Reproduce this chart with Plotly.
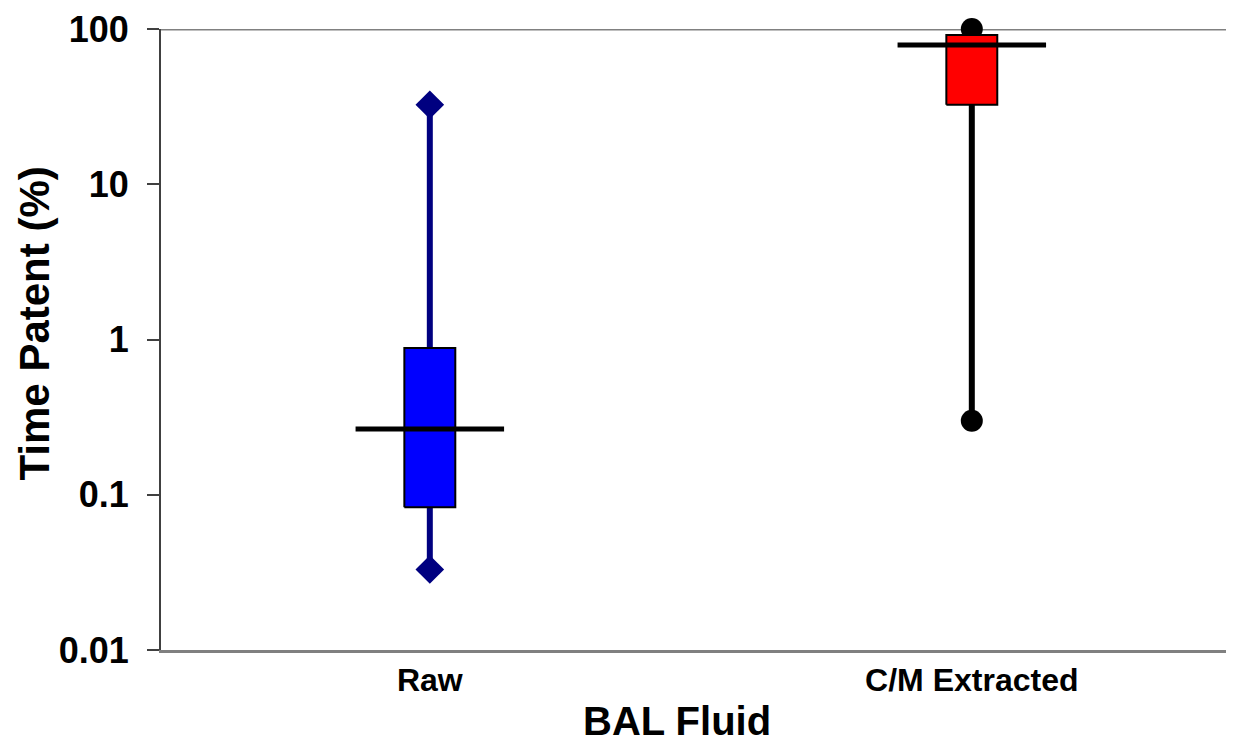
import plotly.graph_objects as go

# ---- data ----
categories = ["Raw", "C/M Extracted"]
minimum = [0.033, 0.30]
q1 = [0.083, 32.5]
median = [0.265, 79.0]
q3 = [0.88, 91.5]
maximum = [32.5, 100.0]
y_tickvals = [0.01, 0.1, 1, 10, 100]
y_ticktext = ["0.01", "0.1", "1", "10", "100"]

box_fill = ["#0000FF", "#FF0000"]
whisker_color = ["#000080", "#000000"]
end_symbol = ["diamond", "circle"]

BOX_HALF = 0.047
MED_HALF = 0.137
FONT = "Liberation Sans, Arial, sans-serif"

fig = go.Figure()
for i, cat in enumerate(categories):
    x = i
    # whisker
    fig.add_trace(go.Scatter(
        x=[x, x], y=[minimum[i], maximum[i]], mode="lines",
        line=dict(color=whisker_color[i], width=6), hoverinfo="skip", showlegend=False))
    # end markers
    fig.add_trace(go.Scatter(
        x=[x, x], y=[minimum[i], maximum[i]], mode="markers", cliponaxis=False,
        marker=dict(symbol=end_symbol[i], size=22, color=whisker_color[i]),
        hoverinfo="skip", showlegend=False))
    # box
    fig.add_trace(go.Scatter(
        x=[x - BOX_HALF, x + BOX_HALF, x + BOX_HALF, x - BOX_HALF, x - BOX_HALF],
        y=[q1[i], q1[i], q3[i], q3[i], q1[i]],
        mode="lines", fill="toself", fillcolor=box_fill[i],
        line=dict(color="#000000", width=2), hoverinfo="skip", showlegend=False))
    # median
    fig.add_trace(go.Scatter(
        x=[x - MED_HALF, x + MED_HALF], y=[median[i], median[i]], mode="lines",
        line=dict(color="#000000", width=5), hoverinfo="skip", showlegend=False))

# top border line of plot area
fig.add_shape(type="line", xref="paper", yref="y", x0=0, x1=1, y0=100, y1=100,
              line=dict(color="#808080", width=3), layer="below")

# axis titles as annotations
fig.add_annotation(
    text="Time Patent (%)", textangle=-90, showarrow=False,
    xref="paper", yref="paper", x=-0.1187, y=0.525,
    xanchor="center", yanchor="middle", borderpad=0,
    font=dict(family=FONT, size=42, weight="bold", color="#000000"))
fig.add_annotation(
    text="BAL Fluid", showarrow=False,
    xref="paper", yref="paper", x=0.4845, y=-0.114,
    xanchor="center", yanchor="middle", borderpad=0,
    font=dict(family=FONT, size=40, weight="bold", color="#000000"))

fig.update_layout(
    width=1218, height=737,
    margin=dict(l=153, r=0, t=21, b=95),
    paper_bgcolor="white", plot_bgcolor="white",
    font=dict(family=FONT, color="#000000"),
    xaxis=dict(
        range=[-0.496, 1.469], automargin=False,
        tickvals=[0, 1], ticktext=categories,
        tickfont=dict(family=FONT, size=32, weight="bold"),
        showgrid=False, zeroline=False,
        showline=True, linecolor="#808080", linewidth=3,
        ticks="", ticklabelstandoff=0,
    ),
    yaxis=dict(
        type="log", range=[-2, 2], automargin=False,
        tickvals=y_tickvals, ticktext=y_ticktext,
        tickfont=dict(family=FONT, size=36, weight="bold"),
        showgrid=False, zeroline=False,
        showline=True, linecolor="#404040", linewidth=2,
        ticks="outside", ticklen=12, tickwidth=2, tickcolor="#404040",
        ticklabelstandoff=11,
    ),
)

fig.write_html("out.html")
